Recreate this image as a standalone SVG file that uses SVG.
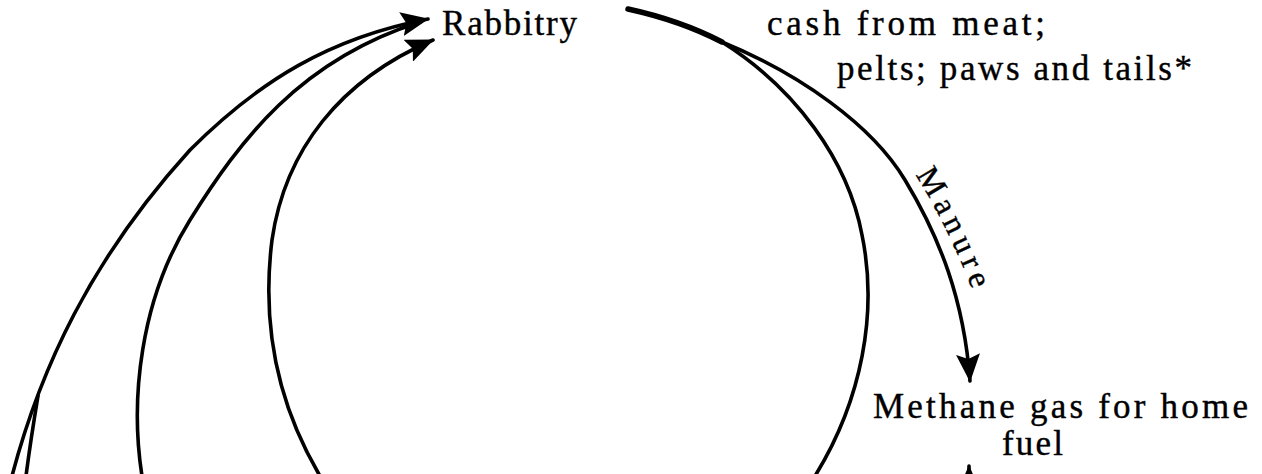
<svg xmlns="http://www.w3.org/2000/svg" width="1262" height="474" viewBox="0 0 1262 474">
<style>
.lbl{font-family:"Liberation Serif","Times New Roman",serif;font-size:35px;fill:#000;stroke:#000;stroke-width:0.4}
.ln{fill:none;stroke:#000;stroke-width:3.6;stroke-linecap:round}
.thk{stroke-width:5.5}
</style>
<defs>
<marker id="ah" viewBox="0 0 28 24" refX="27" refY="12" markerWidth="28" markerHeight="24" orient="auto" markerUnits="userSpaceOnUse">
<path d="M0,0 L28,12 L0,24 L5,12 Z" fill="#000"/>
</marker>
<path id="manurePath" d="M912,170 C937,208 964,262 982,318"/>
</defs>
<rect width="1262" height="474" fill="#fff"/>
<g id="connectors">
<path class="ln thk" d="M628,9 C660,16 695,28 722,42"/>
<path class="ln" d="M722,42 C800,74 872,125 905,180 C940,238 964,300 970,381" marker-end="url(#ah)"/>
<path class="ln" d="M722,42 C795,88 848,160 862,235 C878,312 862,400 815,476"/>
<path class="ln" d="M320,476 C275,400 262,320 272,240 C285,150 340,80 433,40" marker-end="url(#ah)"/>
<path class="ln" d="M12,476 C40,370 90,260 190,150 C260,80 330,38 428,19" marker-end="url(#ah)"/>
<path class="ln" d="M26,476 C30,445 34,420 38,396"/>
<path class="ln" d="M142,476 C130,400 140,300 190,220 C240,140 300,60 420,22"/>
<path class="ln" d="M969,520 L969,466" marker-end="url(#ah)"/>
</g>
<g id="node-rabbitry"><text class="lbl" x="442" y="35" textLength="135" lengthAdjust="spacing">Rabbitry</text></g>
<g id="label-cash"><text class="lbl" x="767" y="35" textLength="278" lengthAdjust="spacing">cash from meat;</text>
<text class="lbl" x="837" y="80" textLength="355" lengthAdjust="spacing">pelts; paws and tails*</text></g>
<g id="label-manure"><text class="lbl" style="font-size:32px"><textPath href="#manurePath" startOffset="6" textLength="128" lengthAdjust="spacing">Manure</textPath></text></g>
<g id="node-methane"><text class="lbl" x="873" y="418" textLength="375" lengthAdjust="spacing">Methane gas for home</text>
<text class="lbl" x="1002" y="455" textLength="61" lengthAdjust="spacing">fuel</text></g>
</svg>
